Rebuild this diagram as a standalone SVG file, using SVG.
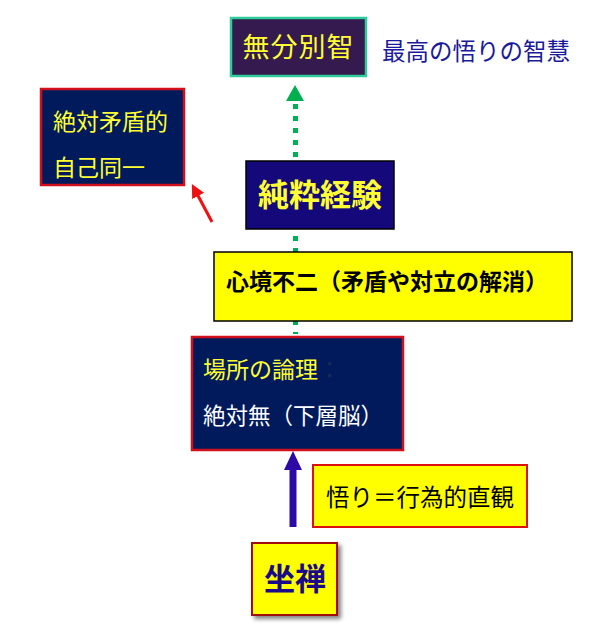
<svg xmlns="http://www.w3.org/2000/svg" width="605" height="628" viewBox="0 0 605 628">
<style>
text{font-family:"Liberation Sans","Noto Sans CJK JP",sans-serif}
.y{fill:#ffff33}
.n{fill:#001a5c;stroke:#d0101a;stroke-width:2.5}
</style>
<defs>
<filter id="sh" x="-20%" y="-20%" width="150%" height="150%">
<feGaussianBlur in="SourceAlpha" stdDeviation="2"/>
<feOffset dx="3" dy="3"/>
<feComponentTransfer><feFuncA type="linear" slope="0.5"/></feComponentTransfer>
<feMerge><feMergeNode/><feMergeNode in="SourceGraphic"/></feMerge>
</filter>
<marker id="ar" viewBox="0 0 10 10" refX="5" refY="5" markerWidth="4.5" markerHeight="4.5" orient="auto"><path d="M0,0 L10,5 L0,10 z" fill="#ee1111"/></marker>
</defs>
<rect width="605" height="628" fill="#ffffff"/>
<g id="connectors">
<line x1="295.5" y1="104" x2="295.5" y2="334" stroke="#00b050" stroke-width="5" stroke-dasharray="5 7"/>
<polygon points="295,85 304,101 286,101" fill="#00b050"/>
<line x1="212" y1="222" x2="195" y2="190" stroke="#ee1111" stroke-width="3" marker-end="url(#ar)"/>
<line x1="293" y1="527" x2="293" y2="468" stroke="#2d0aa6" stroke-width="7"/>
<polygon points="293,451 302,470 284,470" fill="#2d0aa6"/>
</g>
<g id="n1">
<rect x="231" y="18" width="135" height="58" fill="#341a4e" stroke="#2ecc9a" stroke-width="2.5"/>
<text x="298.5" y="57" text-anchor="middle" font-size="27" class="y" letter-spacing="1">無分別智</text>
</g>
<g id="n1label">
<text x="382" y="60" font-size="23.5" fill="#1a1a9a">最高の悟りの智慧</text>
</g>
<g id="n2">
<rect x="41" y="89" width="143" height="96" class="n" stroke="#b0101a"/>
<text x="53" y="130" font-size="23" class="y">絶対矛盾的</text>
<text x="53" y="176" font-size="23" class="y">自己同一</text>
</g>
<g id="n3">
<rect x="246" y="161" width="148" height="68" fill="#14087a" stroke="#000" stroke-width="1.5"/>
<text x="320" y="206" text-anchor="middle" font-size="31" font-weight="bold" class="y">純粋経験</text>
</g>
<g id="n4">
<rect x="214" y="252" width="358" height="69" fill="#ffff00" stroke="#000" stroke-width="1.5"/>
<text x="226" y="290" font-size="23" font-weight="bold" fill="#000">心境不二（矛盾や対立の解消）</text>
</g>
<g id="n5">
<rect x="192" y="337" width="211" height="113" class="n"/>
<text x="203" y="378" font-size="23"><tspan class="y">場所の論理</tspan><tspan fill="#1a2a50">：</tspan></text>
<text x="203" y="424" font-size="22.5" fill="#ffffff">絶対無（下層脳）</text>
</g>
<g id="n6">
<rect x="313" y="465" width="214" height="62" fill="#ffff00" stroke="#e01010" stroke-width="2"/>
<text x="326" y="506" font-size="23.5" fill="#000">悟り＝行為的直観</text>
</g>
<g id="n7">
<rect x="252" y="543" width="85" height="72" fill="#ffff00" stroke="#a01010" stroke-width="2" filter="url(#sh)"/>
<text x="295" y="590" text-anchor="middle" font-size="31" font-weight="bold" fill="#1a0a8a">坐禅</text>
</g>
</svg>
